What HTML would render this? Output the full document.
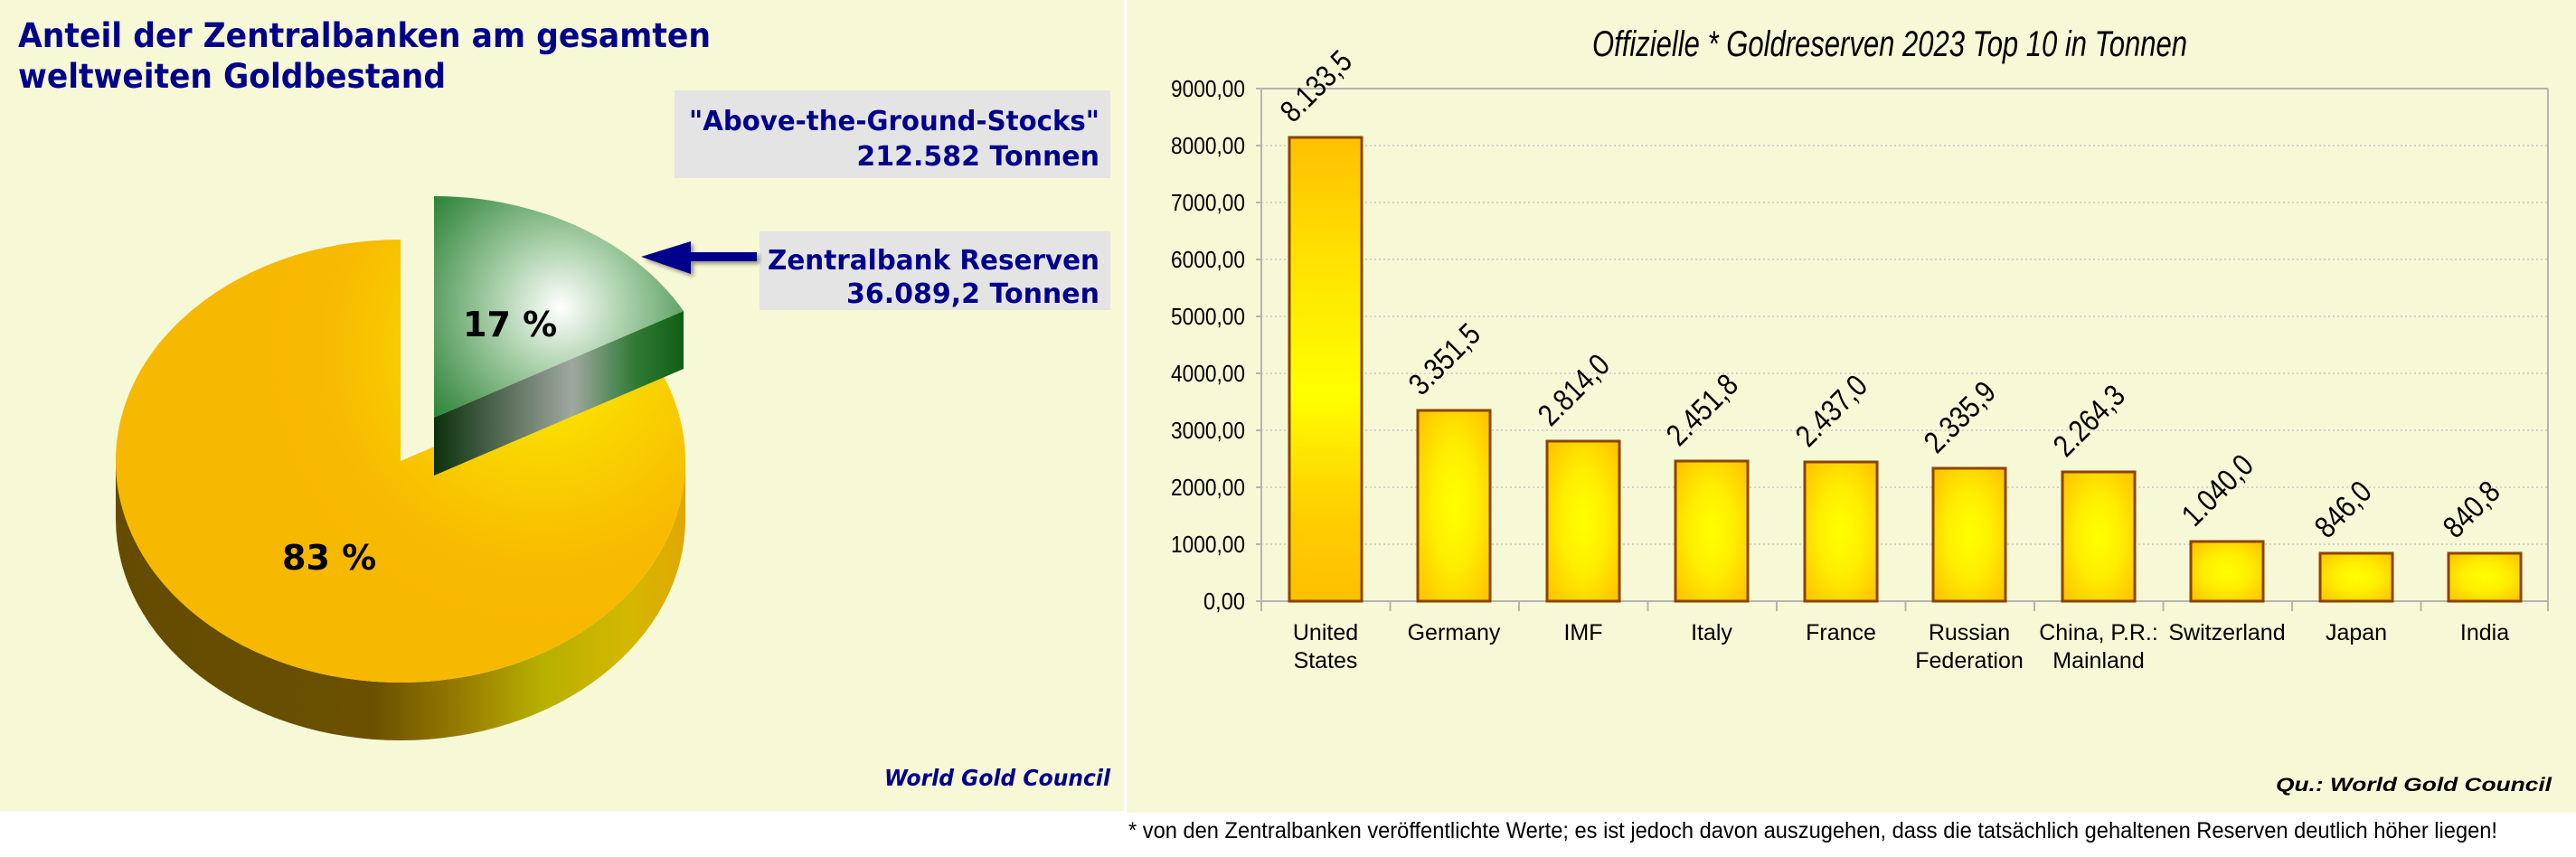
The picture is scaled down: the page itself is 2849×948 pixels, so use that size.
<!DOCTYPE html>
<html><head><meta charset="utf-8"><style>
html,body{margin:0;padding:0;background:#fff;}
svg{display:block;}
</style></head><body>
<svg width="2849" height="948" viewBox="0 0 2849 948" xmlns="http://www.w3.org/2000/svg">
<defs>
<radialGradient id="yTop" cx="600" cy="390" r="330" gradientUnits="userSpaceOnUse">
<stop offset="0" stop-color="#fbf000"/><stop offset="0.35" stop-color="#f9d400"/><stop offset="0.7" stop-color="#f8bb00"/><stop offset="1" stop-color="#f7b800"/></radialGradient>
<linearGradient id="yDepth" x1="128" y1="0" x2="758" y2="0" gradientUnits="userSpaceOnUse">
<stop offset="0" stop-color="#654b00"/><stop offset="0.45" stop-color="#6a5000"/><stop offset="0.6" stop-color="#957a00"/><stop offset="0.75" stop-color="#b8b000"/><stop offset="0.9" stop-color="#d4b800"/><stop offset="1" stop-color="#e0a800"/></linearGradient>
<radialGradient id="gTop" cx="620" cy="340" r="210" gradientUnits="userSpaceOnUse">
<stop offset="0" stop-color="#ffffff"/><stop offset="0.35" stop-color="#a8cfa8"/><stop offset="0.75" stop-color="#4a9452"/><stop offset="1" stop-color="#137520"/></radialGradient>
<linearGradient id="gDepth" x1="480" y1="0" x2="758" y2="0" gradientUnits="userSpaceOnUse">
<stop offset="0" stop-color="#0c300c"/><stop offset="0.55" stop-color="#a0a8a0"/><stop offset="0.8" stop-color="#2f7a35"/><stop offset="1" stop-color="#0f5e14"/></linearGradient>
<radialGradient id="bar" cx="0.5" cy="0.5" r="0.7">
<stop offset="0" stop-color="#ffff00"/><stop offset="0.45" stop-color="#ffee00"/><stop offset="1" stop-color="#ffbf00"/></radialGradient>
<linearGradient id="barL" x1="0" y1="0" x2="0" y2="1">
<stop offset="0" stop-color="#ffc000"/><stop offset="0.25" stop-color="#ffe000"/><stop offset="0.55" stop-color="#ffff00"/><stop offset="0.8" stop-color="#ffd000"/><stop offset="1" stop-color="#ffbf00"/></linearGradient>
<filter id="sh" x="-20%" y="-20%" width="140%" height="140%"><feGaussianBlur in="SourceAlpha" stdDeviation="2"/><feOffset dx="3" dy="3"/><feComponentTransfer><feFuncA type="linear" slope="0.4"/></feComponentTransfer><feMerge><feMergeNode/><feMergeNode in="SourceGraphic"/></feMerge></filter>
</defs>
<rect x="0" y="0" width="1243" height="897" fill="#f7f8d6"/>
<rect x="1246" y="0" width="1603" height="899" fill="#f7f8d6"/>

<g font-family="'DejaVu Sans', sans-serif" font-weight="bold" fill="#00008b">
<text x="20" y="52" font-size="37" textLength="766" lengthAdjust="spacingAndGlyphs">Anteil der Zentralbanken am gesamten</text>
<text x="20" y="97" font-size="37" textLength="473" lengthAdjust="spacingAndGlyphs">weltweiten Goldbestand</text>
</g>
<rect x="746" y="100" width="482" height="97" fill="#e4e4e4"/>
<rect x="840" y="256" width="388" height="87" fill="#e4e4e4"/>
<g font-family="'DejaVu Sans', sans-serif" font-weight="bold" fill="#00008b" font-size="30" text-anchor="end">
<text x="1216" y="144" textLength="454" lengthAdjust="spacingAndGlyphs">"Above-the-Ground-Stocks"</text>
<text x="1216" y="183">212.582 Tonnen</text>
<text x="1216" y="298" textLength="367" lengthAdjust="spacingAndGlyphs">Zentralbank Reserven</text>
<text x="1216" y="335">36.089,2 Tonnen</text>
</g>
<g filter="url(#sh)">
<polygon points="709,284 764,267 764,279 837,279 837,289 764,289 764,303" fill="#00008b"/>
</g>

<path d="M758,510 A315,245 0 0 1 128,510 L128,574 A315,245 0 0 0 758,574 Z" fill="url(#yDepth)"/>
<path d="M443,510 L719,392 A315,245 0 1 1 443,265 Z" fill="url(#yTop)"/>
<polygon points="480,462 756,344 756,408 480,526" fill="url(#gDepth)"/>
<path d="M480,462 L480,217 A315,245 0 0 1 756,344 Z" fill="url(#gTop)"/>
<g font-family="'DejaVu Sans', sans-serif" font-weight="bold" fill="#000" font-size="38">
<text x="512" y="372">17 %</text>
<text x="312" y="630">83 %</text>
</g>
<text x="1228" y="869" text-anchor="end" font-family="'DejaVu Sans', sans-serif" font-weight="bold" font-style="italic" font-size="25" fill="#00008b" textLength="250" lengthAdjust="spacingAndGlyphs">World Gold Council</text>

<text x="1761" y="62" font-family="'Liberation Sans', sans-serif" font-style="italic" font-size="40" fill="#000" textLength="658" lengthAdjust="spacingAndGlyphs">Offizielle * Goldreserven 2023 Top 10 in Tonnen</text>
<g stroke="#c8c8c8" stroke-width="1.5" stroke-dasharray="2,3">
<line x1="1395" y1="161" x2="2818" y2="161"/><line x1="1395" y1="224" x2="2818" y2="224"/><line x1="1395" y1="287" x2="2818" y2="287"/><line x1="1395" y1="350" x2="2818" y2="350"/><line x1="1395" y1="413" x2="2818" y2="413"/><line x1="1395" y1="476" x2="2818" y2="476"/><line x1="1395" y1="539" x2="2818" y2="539"/><line x1="1395" y1="602" x2="2818" y2="602"/>
</g>
<g stroke="#b4b4b4" stroke-width="2" fill="none">
<line x1="1395" y1="98" x2="2818" y2="98"/>
<line x1="2818" y1="98" x2="2818" y2="665"/>
<line x1="1395" y1="98" x2="1395" y2="665"/>
<line x1="1389" y1="665" x2="2818" y2="665"/>
<line x1="1389" y1="98" x2="1395" y2="98"/><line x1="1389" y1="161" x2="1395" y2="161"/><line x1="1389" y1="224" x2="1395" y2="224"/><line x1="1389" y1="287" x2="1395" y2="287"/><line x1="1389" y1="350" x2="1395" y2="350"/><line x1="1389" y1="413" x2="1395" y2="413"/><line x1="1389" y1="476" x2="1395" y2="476"/><line x1="1389" y1="539" x2="1395" y2="539"/><line x1="1389" y1="602" x2="1395" y2="602"/>
<line x1="1395" y1="665" x2="1395" y2="676"/><line x1="1537.5" y1="665" x2="1537.5" y2="676"/><line x1="1680" y1="665" x2="1680" y2="676"/><line x1="1822.5" y1="665" x2="1822.5" y2="676"/><line x1="1965" y1="665" x2="1965" y2="676"/><line x1="2107.5" y1="665" x2="2107.5" y2="676"/><line x1="2250" y1="665" x2="2250" y2="676"/><line x1="2392.5" y1="665" x2="2392.5" y2="676"/><line x1="2535" y1="665" x2="2535" y2="676"/><line x1="2677.5" y1="665" x2="2677.5" y2="676"/><line x1="2818" y1="665" x2="2818" y2="676"/>
</g>
<g font-family="'Liberation Sans', sans-serif" font-size="26" fill="#000" text-anchor="end">
<text x="1377" y="107" textLength="82" lengthAdjust="spacingAndGlyphs">9000,00</text>
<text x="1377" y="170" textLength="82" lengthAdjust="spacingAndGlyphs">8000,00</text>
<text x="1377" y="233" textLength="82" lengthAdjust="spacingAndGlyphs">7000,00</text>
<text x="1377" y="296" textLength="82" lengthAdjust="spacingAndGlyphs">6000,00</text>
<text x="1377" y="359" textLength="82" lengthAdjust="spacingAndGlyphs">5000,00</text>
<text x="1377" y="422" textLength="82" lengthAdjust="spacingAndGlyphs">4000,00</text>
<text x="1377" y="485" textLength="82" lengthAdjust="spacingAndGlyphs">3000,00</text>
<text x="1377" y="548" textLength="82" lengthAdjust="spacingAndGlyphs">2000,00</text>
<text x="1377" y="611" textLength="82" lengthAdjust="spacingAndGlyphs">1000,00</text>
<text x="1377" y="674" textLength="46" lengthAdjust="spacingAndGlyphs">0,00</text>
</g>
<g stroke="#8b4500" stroke-width="3">
<rect x="1426" y="152" width="80" height="513" fill="url(#barL)"/>
<rect x="1568" y="454" width="80" height="211" fill="url(#bar)"/>
<rect x="1711" y="488" width="80" height="177" fill="url(#bar)"/>
<rect x="1853" y="510" width="80" height="155" fill="url(#bar)"/>
<rect x="1996" y="511" width="80" height="154" fill="url(#bar)"/>
<rect x="2138" y="518" width="80" height="147" fill="url(#bar)"/>
<rect x="2281" y="522" width="80" height="143" fill="url(#bar)"/>
<rect x="2423" y="599" width="80" height="66" fill="url(#bar)"/>
<rect x="2566" y="612" width="80" height="53" fill="url(#bar)"/>
<rect x="2708" y="612" width="80" height="53" fill="url(#bar)"/>
</g>
<g font-family="'Liberation Sans', sans-serif" font-size="34" fill="#000">
<text transform="translate(1430,137) rotate(-45)" textLength="95" lengthAdjust="spacingAndGlyphs">8.133,5</text>
<text transform="translate(1572,439) rotate(-45)" textLength="95" lengthAdjust="spacingAndGlyphs">3.351,5</text>
<text transform="translate(1715,473) rotate(-45)" textLength="95" lengthAdjust="spacingAndGlyphs">2.814,0</text>
<text transform="translate(1857,495) rotate(-45)" textLength="95" lengthAdjust="spacingAndGlyphs">2.451,8</text>
<text transform="translate(2000,496) rotate(-45)" textLength="95" lengthAdjust="spacingAndGlyphs">2.437,0</text>
<text transform="translate(2142,503) rotate(-45)" textLength="95" lengthAdjust="spacingAndGlyphs">2.335,9</text>
<text transform="translate(2285,507) rotate(-45)" textLength="95" lengthAdjust="spacingAndGlyphs">2.264,3</text>
<text transform="translate(2427,584) rotate(-45)" textLength="95" lengthAdjust="spacingAndGlyphs">1.040,0</text>
<text transform="translate(2574,597) rotate(-45)" textLength="72" lengthAdjust="spacingAndGlyphs">846,0</text>
<text transform="translate(2716,597) rotate(-45)" textLength="72" lengthAdjust="spacingAndGlyphs">840,8</text>
</g>
<g font-family="'Liberation Sans', sans-serif" font-size="25" fill="#000" text-anchor="middle">
<text x="1466" y="708">United</text><text x="1466" y="739">States</text>
<text x="1608" y="708">Germany</text>
<text x="1751" y="708">IMF</text>
<text x="1893" y="708">Italy</text>
<text x="2036" y="708">France</text>
<text x="2178" y="708">Russian</text><text x="2178" y="739">Federation</text>
<text x="2321" y="708">China, P.R.:</text><text x="2321" y="739">Mainland</text>
<text x="2463" y="708">Switzerland</text>
<text x="2606" y="708">Japan</text>
<text x="2748" y="708">India</text>
</g>
<text x="2822" y="875" text-anchor="end" font-family="'Liberation Sans', sans-serif" font-weight="bold" font-style="italic" font-size="21" fill="#000" textLength="305" lengthAdjust="spacingAndGlyphs">Qu.: World Gold Council</text>
<text x="1248" y="927" font-family="'Liberation Sans', sans-serif" font-size="25" fill="#000" textLength="1514" lengthAdjust="spacingAndGlyphs">* von den Zentralbanken veröffentlichte Werte; es ist jedoch davon auszugehen, dass die tatsächlich gehaltenen Reserven deutlich höher liegen!</text>
</svg>
</body></html>
